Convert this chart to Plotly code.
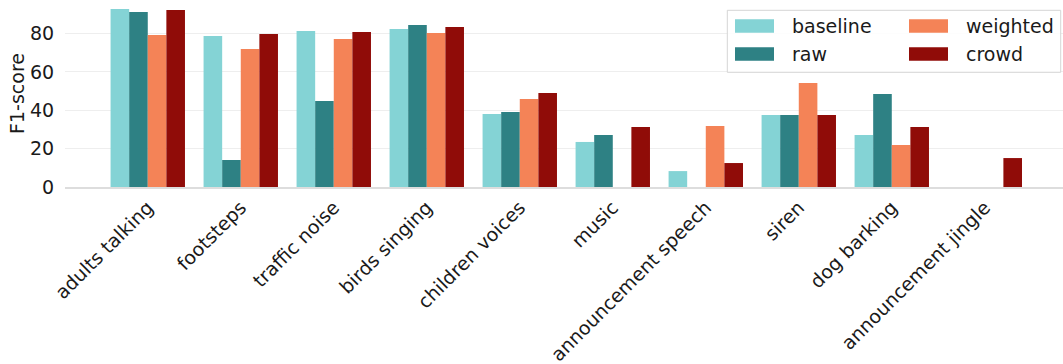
import plotly.graph_objects as go

categories = ["adults talking", "footsteps", "traffic noise", "birds singing",
              "children voices", "music", "announcement speech", "siren",
              "dog barking", "announcement jingle"]
series_names = ["baseline", "raw", "weighted", "crowd"]
baseline = [92.9, 78.8, 81.4, 82.4, 38.1, 23.5, 8.3, 37.6, 27.1, 0]
raw = [91.3, 14.1, 44.9, 84.5, 39.1, 27.1, 0, 37.6, 48.5, 0]
weighted = [79.3, 72.0, 77.2, 80.3, 45.9, 0, 31.8, 54.3, 21.9, 0]
crowd = [92.3, 79.8, 80.9, 83.5, 49.0, 31.3, 12.5, 37.6, 31.3, 15.1]
y_ticks = [0, 20, 40, 60, 80]
colors = ["#84d3d5", "#2e8184", "#f48357", "#900c08"]

values = [baseline, raw, weighted, crowd]
FONT = "DejaVu Sans"
FS = 19

W, H = 1063, 364
ML, MR, MT, MB = 65, 0, 0, 177
pw = W - ML - MR
ph = H - MT - MB

fig = go.Figure()
for name, vals, col in zip(series_names, values, colors):
    fig.add_trace(go.Bar(x=list(range(len(categories))), y=vals, name=name,
                         marker=dict(color=col, line=dict(width=0)),
                         showlegend=False))

fig.update_layout(
    width=W, height=H,
    margin=dict(l=ML, r=MR, t=MT, b=MB, pad=0, autoexpand=False),
    paper_bgcolor="white", plot_bgcolor="white",
    barmode="group", bargap=0.2, bargroupgap=0,
    font=dict(family=FONT, size=FS, color="#1a1a1a"),
    xaxis=dict(
        range=[-0.89, 9.841], automargin=False,
        tickmode="array", tickvals=list(range(len(categories))), ticktext=categories,
        tickangle=-45, showgrid=False, zeroline=False,
        showline=True, linecolor="#dddddd", linewidth=2,
        ticks="",
        tickfont=dict(family=FONT, size=FS, color="#1a1a1a"),
    ),
    yaxis=dict(
        range=[0, 97.56], automargin=False,
        tickmode="array", tickvals=y_ticks,
        showgrid=True, gridcolor="#eeeeee", gridwidth=1,
        zeroline=False, showline=False,
        ticks="outside", ticklen=6, tickcolor="rgba(0,0,0,0)",
        tickfont=dict(family=FONT, size=FS, color="#1a1a1a"),
        title=dict(text="F1-score", standoff=0,
                   font=dict(family=FONT, size=FS, color="#1a1a1a")),
    ),
)

# legend (2 columns) drawn with shapes + text
def px2paper(x, y):
    return (x - ML) / pw, 1 - (y - MT) / ph

x0, y0 = px2paper(727.3, 10.3)
x1, y1 = px2paper(1060.7, 72.3)
fig.add_shape(type="rect", xref="paper", yref="paper", x0=x0, x1=x1, y0=y1, y1=y0,
              line=dict(color="#d5d5d5", width=1), fillcolor="rgba(255,255,255,0.85)",
              layer="above")
col_sw = [735, 909]
col_tx = [790, 964]
row_c = [26, 54]
order = [(0, 0), (0, 1), (1, 0), (1, 1)]  # (col,row) for each series
for (c, r), name, col in zip(order, series_names, colors):
    sx0, sy0 = px2paper(col_sw[c], row_c[r] - 6.7)
    sx1, sy1 = px2paper(col_sw[c] + 39, row_c[r] + 6.7)
    fig.add_shape(type="rect", xref="paper", yref="paper", x0=sx0, x1=sx1, y0=sy1, y1=sy0,
                  line=dict(width=0), fillcolor=col, layer="above")
    tx, ty = px2paper(col_tx[c], row_c[r])
    fig.add_annotation(x=tx, y=ty, xref="paper", yref="paper", text=name,
                       showarrow=False, xanchor="left", yanchor="middle",
                       font=dict(family=FONT, size=FS, color="#1a1a1a"))

fig.write_html("out.html")
